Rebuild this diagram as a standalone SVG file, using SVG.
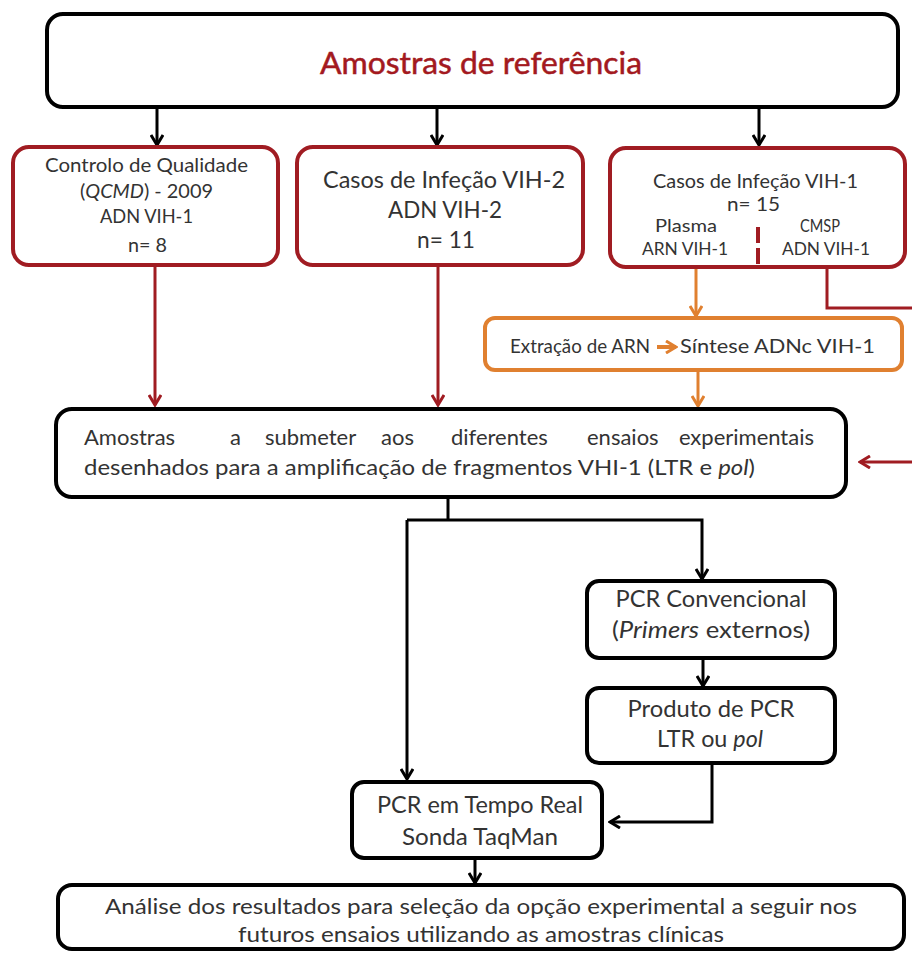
<svg xmlns="http://www.w3.org/2000/svg" width="912" height="959" viewBox="0 0 912 959">
<style>
.bk{fill:#fff;stroke:#000;stroke-width:4}
.rd{fill:#fff;stroke:#a01c22;stroke-width:4}
.or{fill:#fff;stroke:#e08030;stroke-width:4}
text{font-family:Lato,"Liberation Sans",Arial,sans-serif;fill:#333}
.c{text-anchor:middle}
.e{text-anchor:end}
.ln{fill:none;stroke:#000;stroke-width:3}
.lr{fill:none;stroke:#a01c22;stroke-width:3}
.lo{fill:none;stroke:#e08030;stroke-width:3}
</style>
<defs>
<marker id="ab" markerUnits="userSpaceOnUse" viewBox="0 0 14 14" refX="12" refY="7" markerWidth="14" markerHeight="14" orient="auto"><path d="M2,1 L12,7 L2,13" fill="none" stroke="#000" stroke-width="3"/></marker>
<marker id="ar" markerUnits="userSpaceOnUse" viewBox="0 0 14 14" refX="12" refY="7" markerWidth="14" markerHeight="14" orient="auto"><path d="M2,1 L12,7 L2,13" fill="none" stroke="#a01c22" stroke-width="3"/></marker>
<marker id="ao" markerUnits="userSpaceOnUse" viewBox="0 0 14 14" refX="12" refY="7" markerWidth="14" markerHeight="14" orient="auto"><path d="M2,1 L12,7 L2,13" fill="none" stroke="#e08030" stroke-width="3"/></marker>
</defs>

<g id="connectors">
<path class="ln" d="M157,107 V145" marker-end="url(#ab)"/>
<path class="ln" d="M437,107 V145" marker-end="url(#ab)"/>
<path class="ln" d="M759,107 V145" marker-end="url(#ab)"/>
<path class="lr" d="M155,265 V405" marker-end="url(#ar)"/>
<path class="lr" d="M438,265 V405" marker-end="url(#ar)"/>
<path class="lo" d="M696,260 V316" marker-end="url(#ao)"/>
<path class="lo" d="M698,370 V406" marker-end="url(#ao)"/>
<path class="lr" d="M827,258 V308 H912"/>
<path class="lr" d="M912,462 H860" marker-end="url(#ar)"/>
<path class="ln" d="M448,497 V520"/>
<path class="ln" d="M407,520 H702 V579" marker-end="url(#ab)"/>
<path class="ln" d="M407,520 V779" marker-end="url(#ab)"/>
<path class="ln" d="M703,658 V686" marker-end="url(#ab)"/>
<path class="ln" d="M712,763 V822 H610" marker-end="url(#ab)"/>
<path class="ln" d="M475,858 V883" marker-end="url(#ab)"/>
</g>

<g id="top">
<rect class="bk" x="47" y="14" width="851" height="93" rx="16"/>
<text class="c" x="481" y="74" font-size="31" textLength="322" lengthAdjust="spacingAndGlyphs" style="fill:#a31920;stroke:#a31920;stroke-width:0.5">Amostras de referência</text>
</g>

<g id="qcmd">
<rect class="rd" x="13" y="147" width="265" height="118" rx="16"/>
<text x="45" y="172" font-size="20" textLength="203" lengthAdjust="spacingAndGlyphs">Controlo de Qualidade</text>
<text x="80" y="198" font-size="20" textLength="133" lengthAdjust="spacingAndGlyphs">(<tspan font-style="italic">QCMD</tspan>) - 2009</text>
<text x="100" y="223" font-size="20" textLength="93" lengthAdjust="spacingAndGlyphs">ADN VIH-1</text>
<text x="128" y="252" font-size="20" textLength="39" lengthAdjust="spacingAndGlyphs">n= 8</text>
</g>

<g id="vih2">
<rect class="rd" x="297" y="147" width="286" height="118" rx="16"/>
<text x="323" y="188" font-size="23" textLength="242" lengthAdjust="spacingAndGlyphs">Casos de Infeção VIH-2</text>
<text x="388" y="218" font-size="23" textLength="114" lengthAdjust="spacingAndGlyphs">ADN VIH-2</text>
<text x="417" y="248" font-size="23" textLength="58" lengthAdjust="spacingAndGlyphs">n= 11</text>
</g>

<g id="vih1">
<rect class="rd" x="610" y="148" width="295" height="119" rx="16"/>
<text x="653" y="188" font-size="20" textLength="205" lengthAdjust="spacingAndGlyphs">Casos de Infeção VIH-1</text>
<text x="727" y="211" font-size="20" textLength="53" lengthAdjust="spacingAndGlyphs">n= 15</text>
<text x="655" y="232" font-size="18" textLength="62" lengthAdjust="spacingAndGlyphs">Plasma</text>
<text x="642" y="255" font-size="18" textLength="86" lengthAdjust="spacingAndGlyphs">ARN VIH-1</text>
<text x="800" y="232" font-size="18" textLength="40" lengthAdjust="spacingAndGlyphs">CMSP</text>
<text x="782" y="255" font-size="18" textLength="88" lengthAdjust="spacingAndGlyphs">ADN VIH-1</text>
<path d="M758,227 V268" stroke="#a01c22" stroke-width="4" stroke-dasharray="16,5"/>
</g>

<g id="extracao">
<rect class="or" x="485" y="318" width="417" height="52" rx="10"/>
<text x="510" y="353" font-size="19" textLength="140" lengthAdjust="spacingAndGlyphs">Extração de ARN</text>
<path d="M657,347 H676" stroke="#e08030" stroke-width="4" marker-end="url(#ao)"/>
<text x="680" y="353" font-size="19" textLength="195" lengthAdjust="spacingAndGlyphs">Síntese ADNc VIH-1</text>
</g>

<g id="amostras">
<rect class="bk" x="56" y="409" width="790" height="88" rx="16"/>
<text y="445" font-size="22"><tspan x="84">Amostras</tspan><tspan x="230">a</tspan><tspan x="265">submeter</tspan><tspan x="381">aos</tspan><tspan x="451">diferentes</tspan><tspan x="587">ensaios</tspan></text>
<text class="e" x="814" y="445" font-size="22">experimentais</text>
<text x="84" y="475" font-size="22" textLength="671" lengthAdjust="spacingAndGlyphs">desenhados para a amplificação de fragmentos VHI-1 (LTR e <tspan font-style="italic">pol</tspan>)</text>
</g>

<g id="pcrconv">
<rect class="bk" x="587" y="581" width="248" height="77" rx="12"/>
<text class="c" x="711" y="607" font-size="23" textLength="191" lengthAdjust="spacingAndGlyphs">PCR Convencional</text>
<text class="c" x="711" y="638" font-size="23" textLength="198" lengthAdjust="spacingAndGlyphs">(<tspan font-style="italic">Primers</tspan> externos)</text>
</g>

<g id="produto">
<rect class="bk" x="587" y="688" width="248" height="75" rx="12"/>
<text class="c" x="711" y="717" font-size="23" textLength="167" lengthAdjust="spacingAndGlyphs">Produto de PCR</text>
<text class="c" x="710" y="747" font-size="23" textLength="106" lengthAdjust="spacingAndGlyphs">LTR ou <tspan font-style="italic">pol</tspan></text>
</g>

<g id="pcrtempo">
<rect class="bk" x="352" y="782" width="250" height="76" rx="12"/>
<text class="c" x="480" y="813" font-size="23" textLength="206" lengthAdjust="spacingAndGlyphs">PCR em Tempo Real</text>
<text class="c" x="480" y="845" font-size="23" textLength="156" lengthAdjust="spacingAndGlyphs">Sonda TaqMan</text>
</g>

<g id="analise">
<rect class="bk" x="58" y="885" width="846" height="64" rx="14"/>
<text x="105" y="914" font-size="22" textLength="752" lengthAdjust="spacingAndGlyphs">Análise dos resultados para seleção da opção experimental a seguir nos</text>
<text x="238" y="942" font-size="22" textLength="486" lengthAdjust="spacingAndGlyphs">futuros ensaios utilizando as amostras clínicas</text>
</g>
</svg>
